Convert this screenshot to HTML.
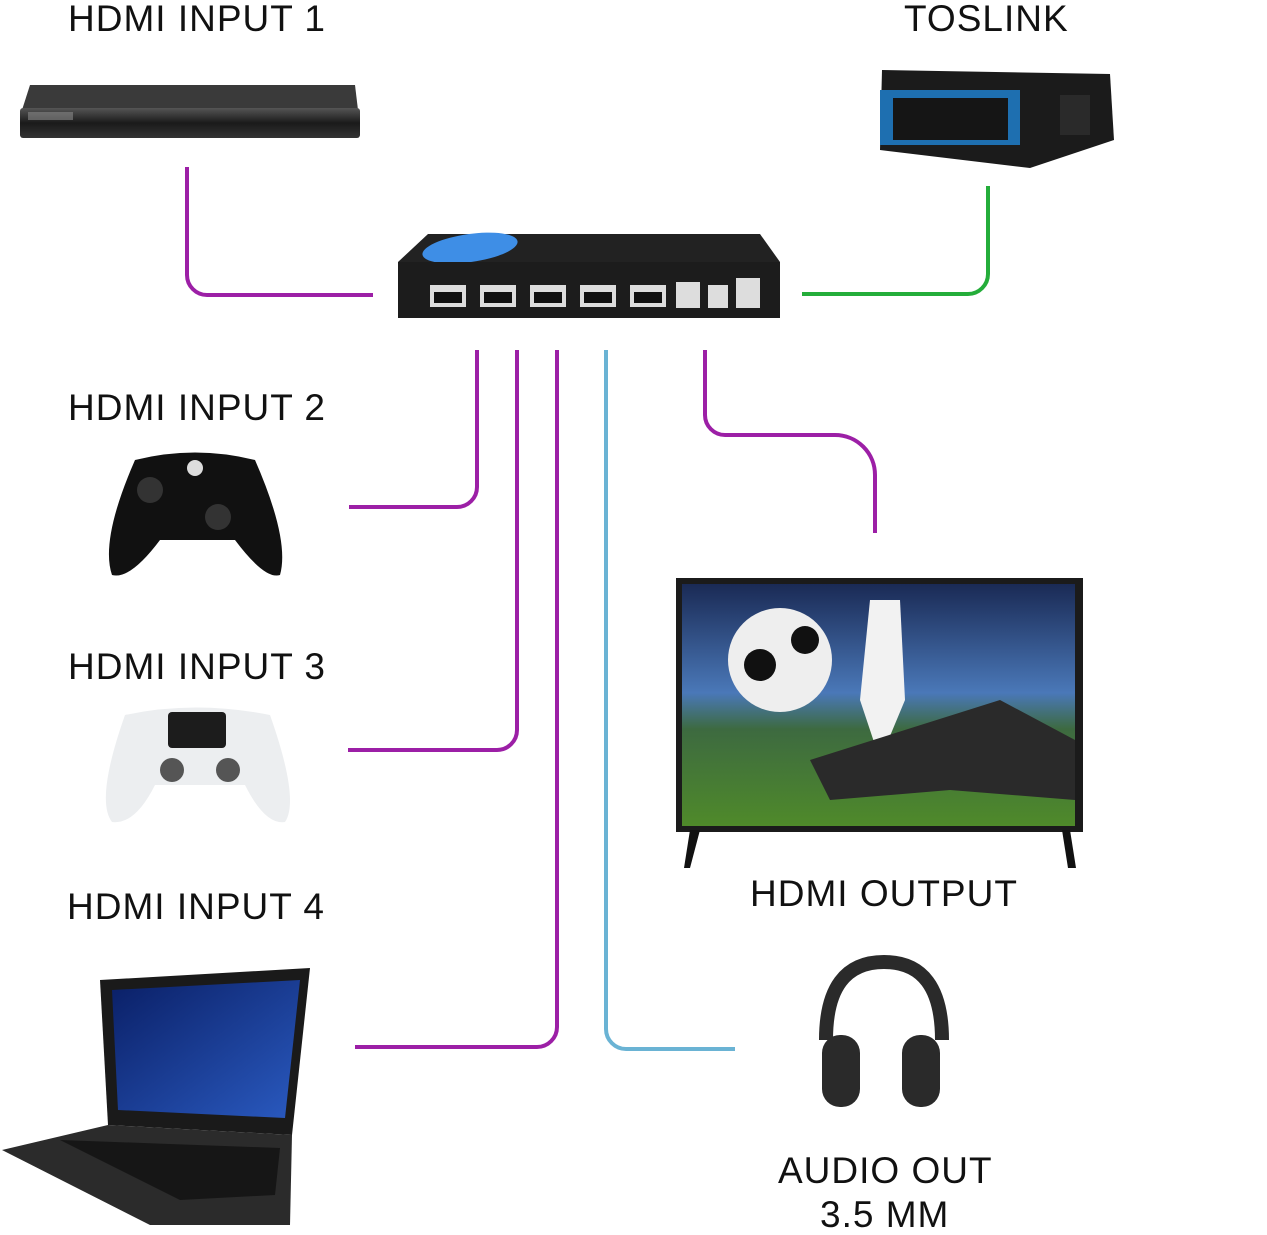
<!DOCTYPE html>
<html><head><meta charset="utf-8"><style>
html,body{margin:0;padding:0;background:#fff;}
body{width:1267px;height:1231px;position:relative;overflow:hidden;font-family:"Liberation Sans",sans-serif;}
.t{position:absolute;font-size:37px;color:#111;white-space:nowrap;line-height:1;letter-spacing:1px;}
</style></head><body>
<svg width="1267" height="1231" style="position:absolute;left:0;top:0">
<defs>
<linearGradient id="scr" x1="0" y1="0" x2="0" y2="1">
<stop offset="0" stop-color="#1a2a55"/><stop offset="0.45" stop-color="#4a78b8"/><stop offset="0.6" stop-color="#3d6a40"/><stop offset="1" stop-color="#4f8a2a"/></linearGradient>
<linearGradient id="dvd" x1="0" y1="0" x2="0" y2="1"><stop offset="0" stop-color="#555"/><stop offset="0.5" stop-color="#1a1a1a"/><stop offset="1" stop-color="#333"/></linearGradient>
<linearGradient id="lap" x1="0" y1="0" x2="1" y2="1"><stop offset="0" stop-color="#0a1f66"/><stop offset="1" stop-color="#2a5ac0"/></linearGradient>
</defs>
<g fill="none" stroke-width="4" stroke-linecap="butt">
<path d="M187 167 V275 a20 20 0 0 0 20 20 H373" stroke="#9c1fa6"/>
<path d="M477 350 V487 a20 20 0 0 1 -20 20 H349" stroke="#9c1fa6"/>
<path d="M517 350 V730 a20 20 0 0 1 -20 20 H348" stroke="#9c1fa6"/>
<path d="M557 350 V1027 a20 20 0 0 1 -20 20 H355" stroke="#9c1fa6"/>
<path d="M606 350 V1029 a20 20 0 0 0 20 20 H735" stroke="#6ab3d4"/>
<path d="M705 350 V415 a20 20 0 0 0 20 20 H835 a40 40 0 0 1 40 40 V533" stroke="#9c1fa6"/>
<path d="M802 294 H968 a20 20 0 0 0 20 -20 V186" stroke="#24ad3a"/>
</g>
<path d="M30 85 L355 85 L358 110 L22 110 Z" fill="#3a3a3a"/>
<rect x="20" y="108" width="340" height="30" rx="3" fill="url(#dvd)"/>
<rect x="28" y="112" width="45" height="8" fill="#888" opacity="0.6"/>
<path d="M882 70 L1110 74 L1114 140 L1030 168 L880 150 Z" fill="#1b1b1b"/>
<rect x="880" y="90" width="140" height="55" fill="#1e6fb0"/>
<rect x="893" y="98" width="115" height="42" fill="#151515"/>
<rect x="1060" y="95" width="30" height="40" fill="#2a2a2a"/>
<path d="M398 262 L428 234 L760 234 L780 262 Z" fill="#222"/>
<ellipse cx="470" cy="248" rx="48" ry="14" fill="#3e8ee6" transform="rotate(-8 470 248)"/>
<rect x="398" y="262" width="382" height="56" fill="#1c1c1c"/>
<g fill="#ddd"><rect x="430" y="285" width="36" height="22"/><rect x="480" y="285" width="36" height="22"/><rect x="530" y="285" width="36" height="22"/><rect x="580" y="285" width="36" height="22"/><rect x="630" y="285" width="36" height="22"/><rect x="676" y="282" width="24" height="26"/><rect x="708" y="285" width="20" height="23"/><rect x="736" y="278" width="24" height="30"/></g>
<g fill="#111"><rect x="434" y="292" width="28" height="11"/><rect x="484" y="292" width="28" height="11"/><rect x="534" y="292" width="28" height="11"/><rect x="584" y="292" width="28" height="11"/><rect x="634" y="292" width="28" height="11"/></g>
<path d="M135 460 Q195 445 255 460 Q290 540 280 575 Q265 580 235 540 L160 540 Q130 580 112 575 Q100 540 135 460 Z" fill="#111"/>
<circle cx="150" cy="490" r="13" fill="#333"/><circle cx="218" cy="517" r="13" fill="#333"/>
<circle cx="195" cy="468" r="8" fill="#ddd"/>
<path d="M125 715 Q195 700 270 715 Q300 800 285 822 Q265 825 245 785 L155 785 Q135 825 112 822 Q95 800 125 715 Z" fill="#eceef0"/>
<rect x="168" y="712" width="58" height="36" rx="4" fill="#1c1c1c"/>
<circle cx="172" cy="770" r="12" fill="#555"/><circle cx="228" cy="770" r="12" fill="#555"/>
<rect x="676" y="578" width="407" height="254" fill="#1b1b1b"/>
<rect x="682" y="584" width="393" height="242" fill="url(#scr)"/>
<circle cx="780" cy="660" r="52" fill="#eee"/>
<circle cx="760" cy="665" r="16" fill="#111"/><circle cx="805" cy="640" r="14" fill="#111"/>
<path d="M870 600 L900 600 L905 700 L880 760 L860 700 Z" fill="#f2f2f2"/>
<path d="M810 760 L1000 700 L1075 740 L1075 800 L950 790 L830 800 Z" fill="#2a2a2a"/>
<path d="M690 830 L684 868 L690 868 L700 830 Z" fill="#111"/>
<path d="M1062 830 L1068 868 L1076 868 L1070 830 Z" fill="#111"/>
<path d="M826 1040 Q826 962 884 962 Q942 962 942 1040" fill="none" stroke="#2a2a2a" stroke-width="14"/>
<rect x="822" y="1035" width="38" height="72" rx="18" fill="#2a2a2a"/>
<rect x="902" y="1035" width="38" height="72" rx="18" fill="#2a2a2a"/>
<path d="M100 980 L310 968 L292 1135 L108 1125 Z" fill="#1a1a1a"/>
<path d="M112 990 L300 980 L285 1118 L118 1110 Z" fill="url(#lap)"/>
<path d="M108 1125 L292 1135 L290 1225 L150 1225 L2 1150 Z" fill="#2b2b2b"/>
<path d="M60 1140 L280 1148 L275 1195 L180 1200 Z" fill="#161616"/>
</svg>
<div class="t" style="left:68px;top:0px">HDMI INPUT 1</div>
<div class="t" style="left:904px;top:0px">TOSLINK</div>
<div class="t" style="left:68px;top:389px">HDMI INPUT 2</div>
<div class="t" style="left:68px;top:648px">HDMI INPUT 3</div>
<div class="t" style="left:67px;top:888px">HDMI INPUT 4</div>
<div class="t" style="left:750px;top:875px">HDMI OUTPUT</div>
<div class="t" style="left:778px;top:1152px">AUDIO OUT</div>
<div class="t" style="left:820px;top:1196px">3.5 MM</div>
</body></html>
